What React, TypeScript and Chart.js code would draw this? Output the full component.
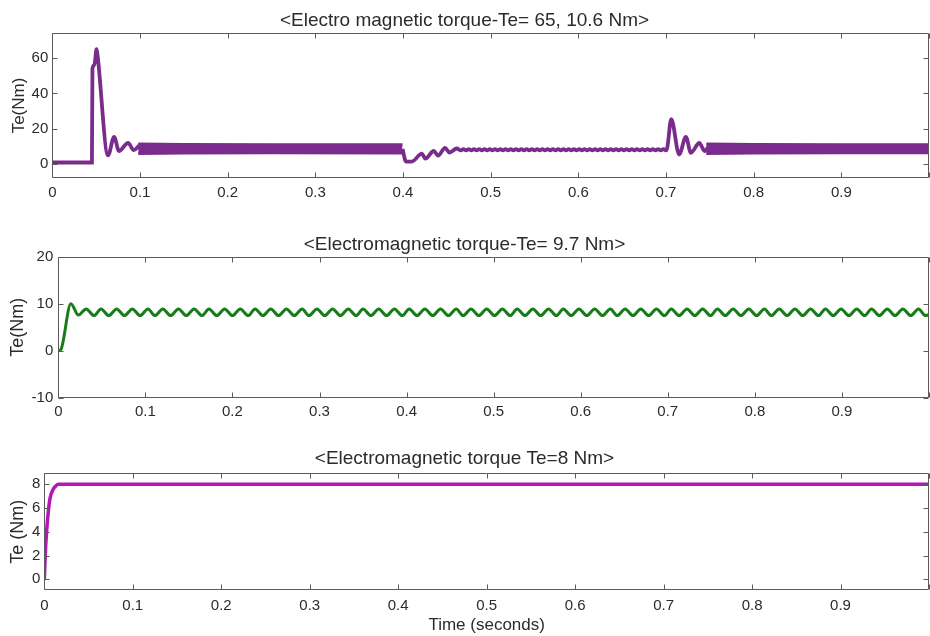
import React, { useEffect, useRef } from "react";
import { Chart, registerables } from "chart.js";

Chart.register(...registerables);

// ---------------- data ----------------
const X_TICKS = [0, 0.1, 0.2, 0.3, 0.4, 0.5, 0.6, 0.7, 0.8, 0.9, 1.0];

// Panel 1: Electro magnetic torque (load steps)
const TE1_Y_TICKS = [0, 20, 40, 60];
const TE1_START_T = [0, 0.0452, 0.0458, 0.048, 0.0505, 0.0515, 0.0636, 0.0705, 0.076, 0.0864, 0.093, 0.099];
const TE1_START_V = [1, 1, 54, 56, 65, 62, 5, 15.5, 7.5, 12, 8, 10.5];
const TE1_BAND1_T = [0.098, 0.15, 0.25, 0.3995];
const TE1_BAND1_HI = [11.6, 11.3, 11.1, 11.1];
const TE1_BAND1_LO = [6.0, 6.2, 6.3, 6.2];
const TE1_DIP_T = [0.3995, 0.4035, 0.41, 0.4216, 0.4255, 0.435, 0.44, 0.448, 0.453, 0.4614, 0.466];
const TE1_DIP_V = [8.6, 1.5, 1.5, 6.0, 3.2, 7.5, 4.9, 9.2, 6.6, 8.9, 7.8];
const TE1_RIPPLE_T = [
  0.469, 0.472, 0.475, 0.478, 0.481, 0.484, 0.487, 0.49, 0.493, 0.496,
  0.499, 0.502, 0.505, 0.508, 0.511, 0.514, 0.517, 0.52, 0.523, 0.526,
  0.529, 0.532, 0.535, 0.538, 0.541, 0.544, 0.547, 0.55, 0.553, 0.556,
  0.559, 0.562, 0.565, 0.568, 0.571, 0.574, 0.577, 0.58, 0.583, 0.586,
  0.589, 0.592, 0.595, 0.598, 0.601, 0.604, 0.607, 0.61, 0.613, 0.616,
  0.619, 0.622, 0.625, 0.628, 0.631, 0.634, 0.637, 0.64, 0.643, 0.646,
  0.649, 0.652, 0.655, 0.658, 0.661, 0.664, 0.667, 0.67, 0.673, 0.676,
  0.679, 0.682, 0.685, 0.688, 0.691, 0.694, 0.697, 0.7,
];
const TE1_RIPPLE_V = [
  8.6, 7.8, 8.6, 7.8, 8.6, 7.8, 8.6, 7.8, 8.6, 7.8,
  8.6, 7.8, 8.6, 7.8, 8.6, 7.8, 8.6, 7.8, 8.6, 7.8,
  8.6, 7.8, 8.6, 7.8, 8.6, 7.8, 8.6, 7.8, 8.6, 7.8,
  8.6, 7.8, 8.6, 7.8, 8.6, 7.8, 8.6, 7.8, 8.6, 7.8,
  8.6, 7.8, 8.6, 7.8, 8.6, 7.8, 8.6, 7.8, 8.6, 7.8,
  8.6, 7.8, 8.6, 7.8, 8.6, 7.8, 8.6, 7.8, 8.6, 7.8,
  8.6, 7.8, 8.6, 7.8, 8.6, 7.8, 8.6, 7.8, 8.6, 7.8,
  8.6, 7.8, 8.6, 7.8, 8.6, 7.8, 8.6, 7.8,
];
const TE1_STEP_T = [0.7015, 0.706, 0.715, 0.7227, 0.7284, 0.738, 0.744, 0.749];
const TE1_STEP_V = [9.5, 25.5, 5.5, 15.5, 6.5, 12, 7.5, 10.2];
const TE1_BAND2_T = [0.746, 0.8, 0.9, 1.0];
const TE1_BAND2_HI = [11.6, 11.3, 11.1, 11.1];
const TE1_BAND2_LO = [6.0, 6.2, 6.3, 6.4];

// Panel 2: Electromagnetic torque 9.7 Nm
const TE2_Y_TICKS = [-10, 0, 10, 20];
const TE2_T = [
  0, 0.003, 0.0145, 0.023, 0.032, 0.041, 0.049, 0.058, 0.067, 0.076,
  0.085, 0.094, 0.103, 0.111, 0.12, 0.129, 0.138, 0.147, 0.156, 0.165,
  0.173, 0.182, 0.191, 0.2, 0.209, 0.218, 0.226, 0.235, 0.244, 0.253,
  0.262, 0.271, 0.28, 0.288, 0.297, 0.306, 0.315, 0.324, 0.333, 0.342,
  0.35, 0.359, 0.368, 0.377, 0.386, 0.395, 0.403, 0.412, 0.421, 0.43,
  0.439, 0.448, 0.457, 0.465, 0.474, 0.483, 0.492, 0.501, 0.51, 0.519,
  0.527, 0.536, 0.545, 0.554, 0.563, 0.572, 0.58, 0.589, 0.598, 0.607,
  0.616, 0.625, 0.634, 0.642, 0.651, 0.66, 0.669, 0.678, 0.687, 0.696,
  0.704, 0.713, 0.722, 0.731, 0.74, 0.749, 0.757, 0.766, 0.775, 0.784,
  0.793, 0.802, 0.811, 0.819, 0.828, 0.837, 0.846, 0.855, 0.864, 0.873,
  0.881, 0.89, 0.899, 0.908, 0.917, 0.926, 0.934, 0.943, 0.952, 0.961,
  0.97, 0.979, 0.988, 0.996, 1.0,
];
const TE2_V = [
  0, 0.3, 10, 7.6, 8.9, 7.5, 8.9, 7.5, 8.9, 7.5,
  8.9, 7.5, 8.9, 7.5, 8.9, 7.5, 8.9, 7.5, 8.9, 7.5,
  8.9, 7.5, 8.9, 7.5, 8.9, 7.5, 8.9, 7.5, 8.9, 7.5,
  8.9, 7.5, 8.9, 7.5, 8.9, 7.5, 8.9, 7.5, 8.9, 7.5,
  8.9, 7.5, 8.9, 7.5, 8.9, 7.5, 8.9, 7.5, 8.9, 7.5,
  8.9, 7.5, 8.9, 7.5, 8.9, 7.5, 8.9, 7.5, 8.9, 7.5,
  8.9, 7.5, 8.9, 7.5, 8.9, 7.5, 8.9, 7.5, 8.9, 7.5,
  8.9, 7.5, 8.9, 7.5, 8.9, 7.5, 8.9, 7.5, 8.9, 7.5,
  8.9, 7.5, 8.9, 7.5, 8.9, 7.5, 8.9, 7.5, 8.9, 7.5,
  8.9, 7.5, 8.9, 7.5, 8.9, 7.5, 8.9, 7.5, 8.9, 7.5,
  8.9, 7.5, 8.9, 7.5, 8.9, 7.5, 8.9, 7.5, 8.9, 7.5,
  8.9, 7.5, 8.9, 7.5, 7.7,
];

// Panel 3: Electromagnetic torque 8 Nm
const TE3_Y_TICKS = [0, 2, 4, 6, 8];
const TE3_T = [0, 0.0008, 0.0015, 0.0026, 0.004, 0.0064, 0.0102, 0.0135, 0.0158, 1.0];
const TE3_V = [0, 1.5, 2.7, 4.0, 5.3, 6.8, 7.6, 7.9, 8.0, 8.0];

// ---------------- styling ----------------
const FONT = "'Liberation Sans', Arial, Helvetica, sans-serif";
const TEXT = "#2b2b2b";
const FRAME = "#5a5a5a";
const PURPLE = "#7a2c8c";
const GREEN = "#187c18";
const MAGENTA = "#b616b6";

const pts = (t: number[], v: number[]) => t.map((x, i) => ({ x, y: v[i] }));

const framePlugin = {
  id: "matlabFrame",
  afterDraw(chart: any) {
    const { ctx, chartArea: a, scales } = chart;
    const x = scales.x;
    const y = scales.y;
    const L = Math.round(a.left) + 0.5;
    const R = Math.round(a.right) - 0.5;
    const T = Math.round(a.top) + 0.5;
    const B = Math.round(a.bottom) - 0.5;
    const tl = 5;
    ctx.save();
    ctx.strokeStyle = FRAME;
    ctx.lineWidth = 1;
    ctx.beginPath();
    ctx.rect(L, T, R - L, B - T);
    x.ticks.forEach((tk: any) => {
      const px = Math.round(x.getPixelForValue(tk.value)) + 0.5;
      ctx.moveTo(px, B);
      ctx.lineTo(px, B - tl);
      ctx.moveTo(px, T);
      ctx.lineTo(px, T + tl);
    });
    y.ticks.forEach((tk: any) => {
      const py = Math.round(y.getPixelForValue(tk.value)) + 0.5;
      ctx.moveTo(L, py);
      ctx.lineTo(L + tl, py);
      ctx.moveTo(R, py);
      ctx.lineTo(R - tl, py);
    });
    ctx.stroke();
    ctx.restore();
  },
};

type PanelProps = {
  top: number;
  height: number;
  datasets: any[];
  title: string;
  titlePad: { top: number; bottom: number };
  yLabel: string;
  yLabelSize: number;
  yLabelPad: number;
  yMin: number;
  yMax: number;
  yTicks: number[];
  axisWidth: number;
  axisHeight: number;
  xTickPad: number;
  yTickPad: number;
  xLabel?: string;
};

function Panel(p: PanelProps) {
  const ref = useRef<HTMLCanvasElement | null>(null);
  useEffect(() => {
    if (!ref.current) return;
    const chart = new Chart(ref.current, {
      type: "line",
      data: { datasets: p.datasets },
      options: {
        animation: false,
        responsive: false,
        maintainAspectRatio: false,
        devicePixelRatio: 1,
        layout: { padding: { left: 0, right: 1, top: 0, bottom: 0 } },
        elements: { point: { radius: 0 }, line: { tension: 0 } },
        plugins: {
          legend: { display: false },
          tooltip: { enabled: false },
          title: {
            display: true,
            text: p.title,
            color: TEXT,
            font: { family: FONT, size: 19, weight: "normal" },
            padding: p.titlePad,
          },
        },
        scales: {
          x: {
            type: "linear",
            min: 0,
            max: 1,
            grid: { display: false, drawTicks: false },
            border: { display: false },
            ticks: {
              autoSkip: false,
              maxRotation: 0,
              padding: p.xTickPad,
              color: TEXT,
              font: { family: FONT, size: 15 },
              callback: (v: any) => {
                const n = Number(v);
                if (n >= 0.999) return "";
                return n === 0 ? "0" : n.toFixed(1);
              },
            },
            afterBuildTicks: (s: any) => {
              s.ticks = X_TICKS.map((value) => ({ value }));
            },
            afterFit: (s: any) => {
              s.height = p.axisHeight;
              s.paddingLeft = 0;
              s.paddingRight = 0;
            },
            title: p.xLabel
              ? {
                  display: true,
                  text: p.xLabel,
                  color: TEXT,
                  font: { family: FONT, size: 17 },
                  padding: { top: 0, bottom: 0 },
                }
              : { display: false },
          },
          y: {
            type: "linear",
            min: p.yMin,
            max: p.yMax,
            grid: { display: false, drawTicks: false },
            border: { display: false },
            ticks: {
              padding: p.yTickPad,
              color: TEXT,
              font: { family: FONT, size: 15 },
            },
            afterBuildTicks: (s: any) => {
              s.ticks = p.yTicks.map((value) => ({ value }));
            },
            afterFit: (s: any) => {
              s.width = p.axisWidth;
              s.paddingTop = 0;
              s.paddingBottom = 0;
            },
            title: {
              display: true,
              text: p.yLabel,
              color: TEXT,
              font: { family: FONT, size: p.yLabelSize },
              padding: { top: p.yLabelPad, bottom: 0 },
            },
          },
        },
      },
      plugins: [framePlugin],
    } as any);
    return () => chart.destroy();
  }, []);
  return (
    <canvas
      ref={ref}
      width={930}
      height={p.height}
      style={{ position: "absolute", left: 0, top: p.top, display: "block" }}
    />
  );
}

export default function App() {
  const line = (data: any[], color: string, width: number, extra: any = {}) => ({
    data,
    borderColor: color,
    backgroundColor: color,
    borderWidth: width,
    pointRadius: 0,
    fill: false,
    ...extra,
  });
  const smooth = { cubicInterpolationMode: "monotone" };

  const ds1 = [
    line(pts(TE1_BAND1_T, TE1_BAND1_HI), PURPLE, 2.5, { fill: "+1" }),
    line(pts(TE1_BAND1_T, TE1_BAND1_LO), PURPLE, 2.5),
    line(pts(TE1_BAND2_T, TE1_BAND2_HI), PURPLE, 2.5, { fill: "+1" }),
    line(pts(TE1_BAND2_T, TE1_BAND2_LO), PURPLE, 2.5),
    line(pts(TE1_START_T, TE1_START_V), PURPLE, 3.8, smooth),
    line(
      pts(
        [...TE1_DIP_T, ...TE1_RIPPLE_T, ...TE1_STEP_T],
        [...TE1_DIP_V, ...TE1_RIPPLE_V, ...TE1_STEP_V]
      ),
      PURPLE,
      3.8,
      smooth
    ),
  ];
  const ds2 = [line(pts(TE2_T, TE2_V), GREEN, 3, smooth)];
  const ds3 = [line(pts(TE3_T, TE3_V), MAGENTA, 3.5, smooth)];

  return (
    <div
      style={{
        position: "absolute",
        left: 0,
        top: 0,
        width: 930,
        height: 636,
        background: "#fff",
        overflow: "hidden",
      }}
    >
      <Panel
        top={0}
        height={200}
        datasets={ds1}
        title="<Electro magnetic torque-Te= 65, 10.6 Nm>"
        titlePad={{ top: 9.6, bottom: 0.9 }}
        yLabel="Te(Nm)"
        yLabelSize={17}
        yLabelPad={8.8}
        yMin={-7.6}
        yMax={74}
        yTicks={TE1_Y_TICKS}
        axisWidth={52.3}
        axisHeight={22.3}
        xTickPad={6}
        yTickPad={4}
      />
      <Panel
        top={225}
        height={200}
        datasets={ds2}
        title="<Electromagnetic torque-Te= 9.7 Nm>"
        titlePad={{ top: 8.6, bottom: 0.3 }}
        yLabel="Te(Nm)"
        yLabelSize={18}
        yLabelPad={7.2}
        yMin={-10}
        yMax={20}
        yTicks={TE2_Y_TICKS}
        axisWidth={58.3}
        axisHeight={27}
        xTickPad={5}
        yTickPad={5}
      />
      <Panel
        top={445}
        height={191}
        datasets={ds3}
        title="<Electromagnetic torque Te=8 Nm>"
        titlePad={{ top: 2.6, bottom: 2.9 }}
        yLabel="Te (Nm)"
        yLabelSize={18}
        yLabelPad={7.5}
        yMin={-0.9}
        yMax={8.93}
        yTicks={TE3_Y_TICKS}
        axisWidth={44.3}
        axisHeight={46}
        xTickPad={7}
        yTickPad={4}
        xLabel="Time (seconds)"
      />
    </div>
  );
}
